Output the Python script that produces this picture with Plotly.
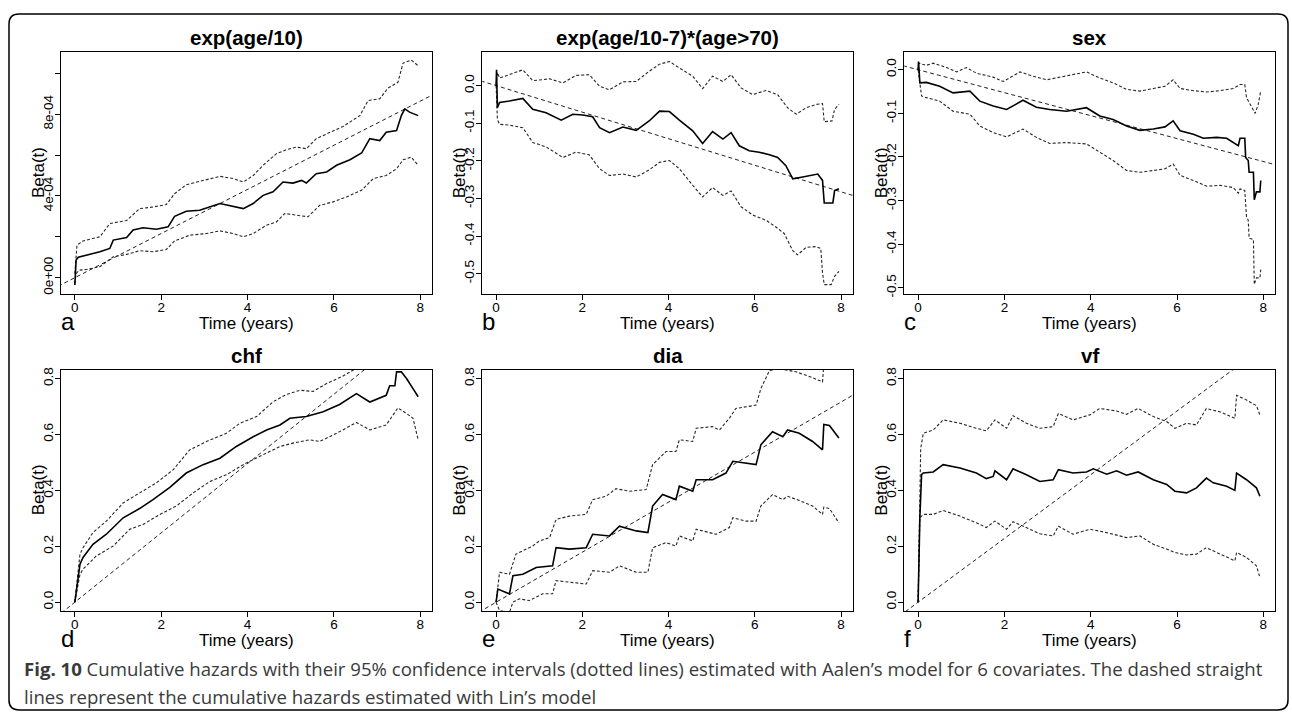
import plotly.graph_objects as go

# ---------------- data ----------------
TITLES = ["exp(age/10)", "exp(age/10-7)*(age>70)", "sex", "chf", "dia", "vf"]
LETTERS = ["a", "b", "c", "d", "e", "f"]
X_TICKS = [0, 2, 4, 6, 8]

# Lin's model constant effects (slopes of the dashed straight lines)
LIN_SLOPES = [1.08e-4, -0.0353, -0.0263, 0.124, 0.0895, 0.114]

# panel a : exp(age/10)   (values in units of 1e-4)
A_EST_T = [0, 0.01, 0.03, 0.08, 0.12, 0.58, 0.81, 0.89, 1.2, 1.35, 1.58, 1.89, 2.16, 2.31, 2.58, 2.89, 3.36, 3.67, 3.9, 4.13,
           4.36, 4.59, 4.82, 5.05, 5.25, 5.36, 5.59, 5.83, 6.06, 6.37, 6.64, 6.83, 7.06, 7.21, 7.45, 7.56, 7.64, 7.75, 7.95]
A_EST = [-0.36, 0.3, 0.86, 1.0, 1.02, 1.27, 1.43, 1.84, 1.97, 2.33, 2.44, 2.37, 2.49, 3.0, 3.25, 3.3, 3.63, 3.5, 3.38, 3.63,
         4.03, 4.2, 4.68, 4.63, 4.76, 4.63, 5.09, 5.17, 5.5, 5.77, 6.1, 6.8, 6.71, 7.12, 7.2, 7.93, 8.26, 8.1, 7.93]
A_HI_T = [0, 0.02, 0.05, 0.19, 0.58, 0.81, 1.2, 1.5, 1.81, 2.12, 2.31, 2.58, 2.97, 3.36, 3.67, 3.9, 4.13, 4.36, 4.67, 4.9,
          5.13, 5.36, 5.59, 5.9, 6.21, 6.6, 6.79, 7.06, 7.25, 7.48, 7.6, 7.79, 7.95]
A_HI = [0.2, 1.0, 1.59, 1.8, 2.0, 2.65, 2.8, 3.38, 3.46, 3.58, 4.11, 4.55, 4.76, 4.96, 4.85, 4.68, 5.0, 5.5, 6.07, 6.26,
        6.39, 6.31, 6.8, 7.12, 7.4, 7.93, 8.67, 8.75, 9.28, 9.56, 10.5, 10.65, 10.37]
A_LO_T = [0, 0.03, 0.1, 0.27, 0.58, 0.89, 1.2, 1.5, 1.81, 2.12, 2.31, 2.66, 3.05, 3.36, 3.67, 3.9, 4.13, 4.44, 4.67, 4.86,
          5.13, 5.4, 5.67, 5.98, 6.29, 6.64, 6.91, 7.21, 7.45, 7.6, 7.79, 7.95]
A_LO = [-0.28, 0.2, 0.37, 0.4, 0.54, 1.02, 1.14, 1.32, 1.27, 1.38, 1.8, 2.08, 2.16, 2.29, 2.16, 2.0, 2.16, 2.57, 2.73, 3.14,
        3.06, 2.98, 3.54, 3.71, 3.95, 4.28, 4.85, 5.0, 5.33, 5.77, 5.9, 5.5]
A_SCALE = 1e-4

# panel b : exp(age/10-7)*(age>70)
B_EST_T = [0, 0.01, 0.03, 0.08, 0.31, 0.62, 0.85, 1.16, 1.51, 1.78, 2.01, 2.24, 2.4, 2.63, 2.94, 3.25, 3.55, 3.79, 4.02, 4.25,
           4.56, 4.79, 5.02, 5.26, 5.45, 5.64, 5.87, 6.1, 6.34, 6.53, 6.72, 6.88, 7.11, 7.3, 7.46, 7.57, 7.61, 7.81, 7.85, 7.95]
B_EST = [0.0, 0.042, -0.059, -0.045, -0.041, -0.034, -0.063, -0.072, -0.092, -0.076, -0.078, -0.083, -0.112, -0.125, -0.11,
         -0.119, -0.094, -0.068, -0.069, -0.092, -0.12, -0.154, -0.122, -0.142, -0.125, -0.16, -0.173, -0.177, -0.184, -0.191,
         -0.213, -0.248, -0.243, -0.239, -0.235, -0.252, -0.312, -0.312, -0.279, -0.274]
B_HI_T = [0, 0.03, 0.08, 0.31, 0.62, 0.85, 1.24, 1.55, 1.85, 2.16, 2.4, 2.63, 2.94, 3.25, 3.55, 3.79, 4.02, 4.25, 4.56, 4.79,
          5.02, 5.26, 5.45, 5.68, 5.95, 6.26, 6.53, 6.76, 6.96, 7.19, 7.42, 7.57, 7.61, 7.79, 7.85, 7.95]
B_HI = [0.0, 0.035, 0.02, 0.029, 0.042, 0.013, 0.018, 0.007, 0.027, 0.029, -0.002, -0.011, 0.01, 0.011, 0.038, 0.057, 0.064,
        0.047, 0.025, -0.008, 0.025, 0.011, 0.029, -0.006, -0.024, -0.013, -0.024, -0.059, -0.076, -0.059, -0.05, -0.048,
        -0.096, -0.094, -0.063, -0.05]
B_LO_T = [0, 0.03, 0.08, 0.31, 0.62, 0.85, 1.16, 1.55, 1.85, 2.16, 2.4, 2.63, 2.94, 3.25, 3.55, 3.79, 4.02, 4.25, 4.56, 4.79,
          5.02, 5.26, 5.45, 5.68, 5.95, 6.26, 6.49, 6.68, 6.88, 6.99, 7.19, 7.42, 7.53, 7.57, 7.61, 7.77, 7.85, 7.95]
B_LO = [0.0, -0.09, -0.103, -0.105, -0.112, -0.151, -0.163, -0.191, -0.177, -0.184, -0.221, -0.239, -0.235, -0.243, -0.224,
        -0.204, -0.199, -0.221, -0.265, -0.296, -0.271, -0.292, -0.28, -0.322, -0.344, -0.358, -0.376, -0.393, -0.439, -0.45,
        -0.43, -0.428, -0.433, -0.498, -0.529, -0.529, -0.507, -0.494]

# panel c : sex
C_EST_T = [0, 0.01, 0.04, 0.19, 0.5, 0.81, 1.2, 1.43, 1.74, 2.05, 2.43, 2.74, 3.05, 3.44, 3.9, 4.21, 4.52, 4.83, 5.14, 5.45,
           5.72, 5.91, 6.07, 6.38, 6.61, 6.92, 7.15, 7.3, 7.42, 7.46, 7.57, 7.59, 7.65, 7.67, 7.77, 7.79, 7.84, 7.92, 7.94]
C_EST = [0.0, 0.019, -0.03, -0.029, -0.038, -0.053, -0.049, -0.072, -0.083, -0.091, -0.07, -0.086, -0.091, -0.095, -0.087,
         -0.106, -0.114, -0.129, -0.139, -0.136, -0.131, -0.117, -0.14, -0.148, -0.157, -0.155, -0.157, -0.167, -0.174, -0.157,
         -0.157, -0.201, -0.208, -0.235, -0.235, -0.298, -0.28, -0.28, -0.254]
C_HI_T = [0, 0.02, 0.19, 0.35, 0.66, 0.89, 1.12, 1.35, 1.74, 1.97, 2.36, 2.67, 2.98, 3.36, 3.9, 4.21, 4.52, 4.83, 5.14, 5.45,
          5.72, 5.91, 6.07, 6.38, 6.69, 7.0, 7.3, 7.46, 7.57, 7.61, 7.73, 7.81, 7.88, 7.94]
C_HI = [0.0, 0.015, 0.01, 0.015, 0.005, -0.005, 0.005, -0.008, -0.017, -0.027, -0.005, -0.015, -0.023, -0.015, -0.005, -0.019,
        -0.03, -0.045, -0.049, -0.043, -0.038, -0.023, -0.043, -0.048, -0.051, -0.048, -0.043, -0.034, -0.034, -0.064, -0.086,
        -0.1, -0.08, -0.048]
C_LO_T = [0, 0.08, 0.19, 0.5, 0.81, 1.2, 1.43, 1.74, 2.05, 2.43, 2.74, 3.05, 3.44, 3.9, 4.21, 4.52, 4.83, 5.14, 5.45, 5.72,
          5.91, 6.07, 6.38, 6.69, 7.0, 7.3, 7.42, 7.46, 7.57, 7.61, 7.65, 7.67, 7.77, 7.79, 7.84, 7.92, 7.94]
C_LO = [0.0, -0.06, -0.064, -0.072, -0.095, -0.102, -0.129, -0.144, -0.154, -0.136, -0.155, -0.169, -0.167, -0.17, -0.189,
        -0.208, -0.231, -0.235, -0.231, -0.227, -0.216, -0.242, -0.254, -0.267, -0.265, -0.27, -0.283, -0.273, -0.277, -0.337,
        -0.345, -0.386, -0.389, -0.492, -0.477, -0.477, -0.458]

# panel d : chf
D_EST_T = [0, 0.08, 0.12, 0.19, 0.42, 0.73, 1.12, 1.5, 1.81, 2.2, 2.58, 2.97, 3.36, 3.74, 4.13, 4.44, 4.75, 4.98, 5.36, 5.75,
           6.13, 6.52, 6.83, 7.21, 7.29, 7.41, 7.45, 7.56, 7.68, 7.83, 7.95]
D_EST = [0.0, 0.1, 0.136, 0.16, 0.207, 0.243, 0.302, 0.335, 0.367, 0.411, 0.462, 0.492, 0.515, 0.557, 0.592, 0.616, 0.634,
         0.658, 0.664, 0.681, 0.707, 0.746, 0.716, 0.74, 0.774, 0.774, 0.824, 0.824, 0.8, 0.764, 0.735]
D_HI_T = [0, 0.12, 0.19, 0.42, 0.73, 1.12, 1.5, 1.89, 2.28, 2.66, 3.05, 3.51, 3.82, 4.21, 4.59, 4.9, 5.21, 5.52, 5.83, 6.21,
          6.52, 6.75, 6.98, 7.21, 7.45, 7.56, 7.83, 7.95]
D_HI = [0.0, 0.172, 0.195, 0.249, 0.29, 0.355, 0.391, 0.427, 0.474, 0.545, 0.575, 0.604, 0.64, 0.664, 0.717, 0.743, 0.758,
        0.754, 0.782, 0.809, 0.837, 0.847, 0.837, 0.86, 0.94, 0.94, 0.9, 0.87]
D_LO_T = [0, 0.12, 0.19, 0.5, 0.89, 1.27, 1.58, 1.97, 2.35, 2.74, 3.13, 3.51, 3.97, 4.36, 4.75, 5.05, 5.44, 5.67, 6.06, 6.52,
          6.83, 7.21, 7.48, 7.68, 7.83, 7.95]
D_LO = [0.0, 0.1, 0.118, 0.166, 0.201, 0.261, 0.278, 0.314, 0.344, 0.391, 0.432, 0.456, 0.498, 0.527, 0.557, 0.569, 0.581,
        0.575, 0.604, 0.643, 0.616, 0.634, 0.695, 0.675, 0.658, 0.581]

# panel e : dia
E_EST_T = [0, 0.04, 0.23, 0.31, 0.39, 0.62, 0.93, 1.31, 1.39, 1.7, 2.09, 2.24, 2.63, 2.86, 3.25, 3.52, 3.63, 3.86, 4.17, 4.25,
           4.56, 4.64, 5.02, 5.33, 5.49, 5.8, 6.03, 6.14, 6.41, 6.65, 6.76, 7.03, 7.34, 7.57, 7.6, 7.73, 7.95]
E_EST = [0.0, 0.047, 0.035, 0.03, 0.095, 0.1, 0.124, 0.13, 0.195, 0.19, 0.195, 0.243, 0.237, 0.272, 0.255, 0.249, 0.344,
         0.385, 0.367, 0.415, 0.397, 0.438, 0.438, 0.462, 0.504, 0.498, 0.492, 0.563, 0.61, 0.592, 0.616, 0.604, 0.575, 0.545,
         0.636, 0.632, 0.587]
E_HI_T = [0, 0.08, 0.31, 0.46, 0.62, 0.85, 1.0, 1.24, 1.39, 1.7, 2.09, 2.24, 2.55, 2.78, 3.09, 3.48, 3.63, 3.94, 4.17, 4.25,
          4.56, 4.64, 5.02, 5.18, 5.41, 5.56, 5.8, 6.03, 6.14, 6.34, 6.57, 6.96, 7.34, 7.57, 7.6, 7.95]
E_HI = [0.0, 0.107, 0.1, 0.172, 0.184, 0.201, 0.219, 0.231, 0.296, 0.308, 0.314, 0.367, 0.379, 0.406, 0.397, 0.403, 0.492,
        0.539, 0.539, 0.581, 0.575, 0.622, 0.628, 0.616, 0.658, 0.693, 0.699, 0.705, 0.764, 0.829, 0.835, 0.824, 0.803, 0.788,
        0.85, 0.86]
E_LO_T = [0, 0.08, 0.31, 0.39, 0.54, 0.77, 1.08, 1.31, 1.39, 1.78, 2.09, 2.24, 2.63, 2.86, 3.25, 3.52, 3.63, 3.94, 4.17, 4.25,
          4.56, 4.64, 5.1, 5.41, 5.49, 5.8, 6.03, 6.14, 6.41, 6.65, 6.76, 7.03, 7.34, 7.57, 7.6, 7.73, 7.95]
E_LO = [0.0, -0.03, -0.036, 0.0, 0.012, 0.006, 0.03, 0.03, 0.077, 0.071, 0.065, 0.113, 0.107, 0.13, 0.107, 0.107, 0.195,
        0.213, 0.201, 0.237, 0.219, 0.261, 0.243, 0.267, 0.302, 0.29, 0.29, 0.344, 0.385, 0.367, 0.379, 0.364, 0.344, 0.314,
        0.34, 0.335, 0.284]

# panel f : vf
F_EST_T = [0, 0.04, 0.08, 0.12, 0.35, 0.58, 0.97, 1.35, 1.58, 1.74, 1.78, 2.05, 2.2, 2.51, 2.82, 3.13, 3.25, 3.59, 3.9, 4.06,
           4.37, 4.6, 4.83, 5.1, 5.45, 5.76, 5.95, 6.22, 6.45, 6.68, 6.84, 7.15, 7.34, 7.38, 7.61, 7.84, 7.92]
F_EST = [0.0, 0.3, 0.456, 0.462, 0.466, 0.492, 0.48, 0.462, 0.442, 0.45, 0.47, 0.438, 0.477, 0.456, 0.432, 0.438, 0.474,
         0.462, 0.466, 0.477, 0.458, 0.47, 0.454, 0.466, 0.438, 0.421, 0.397, 0.391, 0.409, 0.444, 0.427, 0.415, 0.4, 0.462,
         0.438, 0.409, 0.379]
F_HI_T = [0, 0.04, 0.06, 0.12, 0.35, 0.58, 0.97, 1.35, 1.58, 1.78, 2.05, 2.2, 2.51, 2.82, 3.13, 3.25, 3.59, 3.98, 4.21, 4.6,
          4.83, 5.1, 5.45, 5.76, 5.95, 6.22, 6.45, 6.68, 6.99, 7.34, 7.38, 7.61, 7.84, 7.92]
F_HI = [0.0, 0.314, 0.55, 0.604, 0.616, 0.652, 0.64, 0.622, 0.613, 0.652, 0.622, 0.667, 0.64, 0.622, 0.628, 0.675, 0.652,
        0.67, 0.693, 0.684, 0.672, 0.693, 0.664, 0.646, 0.622, 0.64, 0.634, 0.693, 0.681, 0.658, 0.74, 0.723, 0.703, 0.67]
F_LO_T = [0, 0.04, 0.12, 0.35, 0.58, 0.97, 1.35, 1.58, 1.78, 2.05, 2.2, 2.51, 2.82, 3.13, 3.25, 3.59, 3.98, 4.37, 4.83, 5.14,
          5.45, 5.76, 5.95, 6.22, 6.45, 6.68, 6.99, 7.34, 7.38, 7.61, 7.84, 7.92]
F_LO = [0.0, 0.302, 0.314, 0.314, 0.328, 0.308, 0.284, 0.267, 0.29, 0.261, 0.288, 0.267, 0.245, 0.237, 0.272, 0.243, 0.261,
        0.249, 0.231, 0.237, 0.207, 0.19, 0.178, 0.169, 0.172, 0.195, 0.174, 0.148, 0.178, 0.16, 0.13, 0.089]

# y-axis ranges / ticks
Y_RANGES = [[-0.79e-4, 1.103e-3], [-0.5535, 0.0886], [-0.5136, 0.040],
            [-0.032, 0.832], [-0.032, 0.832], [-0.032, 0.832]]
Y_TICKVALS = [[0, 2e-4, 4e-4, 6e-4, 8e-4, 1e-3],
              [-0.5, -0.4, -0.3, -0.2, -0.1, 0.0],
              [-0.5, -0.4, -0.3, -0.2, -0.1, 0.0],
              [0, 0.2, 0.4, 0.6, 0.8], [0, 0.2, 0.4, 0.6, 0.8], [0, 0.2, 0.4, 0.6, 0.8]]
Y_TICKTEXT = [["0e+00", "", "4e-04", "", "8e-04", ""],
              ["-0.5", "-0.4", "-0.3", "-0.2", "-0.1", "0.0"],
              ["-0.5", "-0.4", "-0.3", "-0.2", "-0.1", "0.0"],
              ["0.0", "0.2", "0.4", "0.6", "0.8"], ["0.0", "0.2", "0.4", "0.6", "0.8"], ["0.0", "0.2", "0.4", "0.6", "0.8"]]
X_RANGE = [-0.32, 8.27]

CAPTION_1 = ("<b>Fig. 10</b> Cumulative hazards with their 95% confidence intervals (dotted lines) estimated with "
             "Aalen’s model for 6 covariates. The dashed straight")
CAPTION_2 = "lines represent the cumulative hazards estimated with Lin’s model"

# ---------------- layout geometry (pixels) ----------------
W, H = 1292, 716
COLS = [(61, 432), (482.3, 852.7), (904.3, 1275)]
ROWS = [(50.7, 294.3), (370.7, 614.3)]


def px(x):
    return x / W


def py(y):
    return 1 - y / H


series = [
    (A_EST_T, [v * A_SCALE for v in A_EST], A_HI_T, [v * A_SCALE for v in A_HI], A_LO_T, [v * A_SCALE for v in A_LO]),
    (B_EST_T, B_EST, B_HI_T, B_HI, B_LO_T, B_LO),
    (C_EST_T, C_EST, C_HI_T, C_HI, C_LO_T, C_LO),
    (D_EST_T, D_EST, D_HI_T, D_HI, D_LO_T, D_LO),
    (E_EST_T, E_EST, E_HI_T, E_HI, E_LO_T, E_LO),
    (F_EST_T, F_EST, F_HI_T, F_HI, F_LO_T, F_LO),
]

FONT = "Liberation Sans, Arial, Helvetica, sans-serif"
fig = go.Figure()
layout = dict(width=W, height=H, margin=dict(l=0, r=0, t=0, b=0), paper_bgcolor="white",
              plot_bgcolor="white", showlegend=False, font=dict(family=FONT, color="black"))
annotations = []

for i in range(6):
    r, c = divmod(i, 3)
    left, right = COLS[c]
    top, bottom = ROWS[r]
    xa = "xaxis" if i == 0 else f"xaxis{i + 1}"
    ya = "yaxis" if i == 0 else f"yaxis{i + 1}"
    xr = "x" if i == 0 else f"x{i + 1}"
    yr = "y" if i == 0 else f"y{i + 1}"
    common = dict(showline=True, linecolor="black", linewidth=1, mirror=True, ticks="outside", ticklen=5,
                  tickcolor="black", tickwidth=1, showgrid=False, zeroline=False,
                  tickfont=dict(family=FONT, size=13.5, color="black"))
    layout[xa] = dict(domain=[px(left), px(right)], anchor=yr, range=X_RANGE, tickvals=X_TICKS,
                      ticktext=[str(v) for v in X_TICKS], ticklabelstandoff=-4, **common)
    layout[ya] = dict(domain=[py(bottom), py(top)], anchor=xr, range=Y_RANGES[i], tickvals=Y_TICKVALS[i],
                      ticktext=Y_TICKTEXT[i], tickangle=-90, ticklabelstandoff=-3, **common)

    et, ev, ht, hv, lt, lv = series[i]
    for tt, vv in ((ht, hv), (lt, lv)):
        fig.add_trace(go.Scatter(x=tt, y=vv, mode="lines", xaxis=xr, yaxis=yr,
                                 line=dict(color="#262626", width=1.1, dash="3px,2px")))
    lin_x = [X_RANGE[0] - 0.5, X_RANGE[1] + 0.5]
    fig.add_trace(go.Scatter(x=lin_x, y=[LIN_SLOPES[i] * t for t in lin_x], mode="lines", xaxis=xr, yaxis=yr,
                             line=dict(color="#222222", width=1, dash="4px,3px")))
    fig.add_trace(go.Scatter(x=et, y=ev, mode="lines", xaxis=xr, yaxis=yr,
                             line=dict(color="black", width=1.6)))

    cx = (left + right) / 2
    # title
    annotations.append(dict(text=TITLES[i], xref="paper", yref="paper", x=px(cx), y=py(top - 1),
                            xanchor="center", yanchor="bottom", showarrow=False,
                            font=dict(family=FONT, size=20.5, color="black", weight="bold")))
    # y label
    annotations.append(dict(text="Beta(t)", xref="paper", yref="paper", x=px(left - 23), y=py((top + bottom) / 2),
                            xanchor="center", yanchor="middle", textangle=-90, showarrow=False,
                            font=dict(family=FONT, size=17, color="black")))
    # x label
    annotations.append(dict(text="Time (years)", xref="paper", yref="paper", x=px(cx), y=py(bottom + 30),
                            xanchor="center", yanchor="middle", showarrow=False,
                            font=dict(family=FONT, size=17, color="black")))
    # panel letter
    annotations.append(dict(text=LETTERS[i], xref="paper", yref="paper", x=px(left - 2), y=py(bottom + 28),
                            xanchor="left", yanchor="middle", showarrow=False,
                            font=dict(family=FONT, size=24, color="black")))

CAP_FONT = dict(family="Open Sans, Noto Sans, sans-serif", size=18.6, color="#3a3a3a")
annotations.append(dict(text=CAPTION_1, xref="paper", yref="paper", x=px(22), y=py(672), xanchor="left",
                        yanchor="middle", showarrow=False, font=CAP_FONT))
annotations.append(dict(text=CAPTION_2, xref="paper", yref="paper", x=px(22), y=py(700), xanchor="left",
                        yanchor="middle", showarrow=False, font=CAP_FONT))
layout["annotations"] = annotations

# rounded outer frame
bx0, by0, bx1, by1, rad = 9, 12, 1288, 714, 10
path = (f"M {px(bx0 + rad)} {py(by0)} L {px(bx1 - rad)} {py(by0)} Q {px(bx1)} {py(by0)} {px(bx1)} {py(by0 + rad)} "
        f"L {px(bx1)} {py(by1 - rad)} Q {px(bx1)} {py(by1)} {px(bx1 - rad)} {py(by1)} "
        f"L {px(bx0 + rad)} {py(by1)} Q {px(bx0)} {py(by1)} {px(bx0)} {py(by1 - rad)} "
        f"L {px(bx0)} {py(by0 + rad)} Q {px(bx0)} {py(by0)} {px(bx0 + rad)} {py(by0)} Z")
layout["shapes"] = [dict(type="path", xref="paper", yref="paper", path=path,
                         line=dict(color="black", width=1.5), fillcolor="rgba(0,0,0,0)")]

fig.update_layout(**layout)
fig.write_html("out.html")
